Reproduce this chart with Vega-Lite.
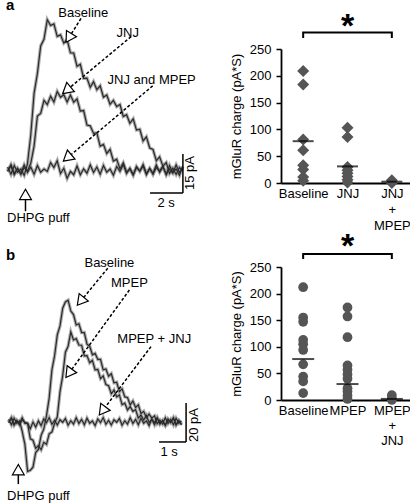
{
  "$schema": "https://vega.github.io/schema/vega-lite/v6.json",
  "padding": 0,
  "background": "white",
  "columns": 2,
  "bounds": "flush",
  "center": true,
  "align": "each",
  "spacing": {"row": 35, "column": 90},
  "config": {"font": "Liberation Sans", "view": {"stroke": null}},
  "datasets": {
    "traceA": [
      {"t":0.1,"Baseline":1.2,"JNJ":-0.5,"JNJ and MPEP":-0.3},
      {"t":0.3,"Baseline":-1.6,"JNJ":2.1,"JNJ and MPEP":1.6},
      {"t":0.5,"Baseline":1.8,"JNJ":-1.3,"JNJ and MPEP":-1.8},
      {"t":0.7,"Baseline":-0.8,"JNJ":0.7,"JNJ and MPEP":0.5},
      {"t":0.9,"Baseline":0.4,"JNJ":-1.7,"JNJ and MPEP":-1.2},
      {"t":1.1,"Baseline":-2.0,"JNJ":1.0,"JNJ and MPEP":2.0},
      {"t":1.3,"Baseline":2.4,"JNJ":-0.3,"JNJ and MPEP":-0.9},
      {"t":1.5,"Baseline":13.5,"JNJ":2.6,"JNJ and MPEP":1.2},
      {"t":1.7,"Baseline":29.5,"JNJ":9.2,"JNJ and MPEP":-1.6},
      {"t":1.9,"Baseline":37.1,"JNJ":20.8,"JNJ and MPEP":1.8},
      {"t":2.1,"Baseline":47.7,"JNJ":21.8,"JNJ and MPEP":-0.8},
      {"t":2.3,"Baseline":50.3,"JNJ":26.8,"JNJ and MPEP":0.4},
      {"t":2.5,"Baseline":57.8,"JNJ":25.2,"JNJ and MPEP":-0.5},
      {"t":2.7,"Baseline":55.6,"JNJ":28.4,"JNJ and MPEP":2.9},
      {"t":2.9,"Baseline":56.2,"JNJ":26.2,"JNJ and MPEP":1.0},
      {"t":3.1,"Baseline":51.4,"JNJ":30.2,"JNJ and MPEP":3.6},
      {"t":3.3,"Baseline":52.0,"JNJ":28.0,"JNJ and MPEP":-1.3},
      {"t":3.5,"Baseline":48.8,"JNJ":29.0,"JNJ and MPEP":0.7},
      {"t":3.7,"Baseline":50.2,"JNJ":26.2,"JNJ and MPEP":-3.2},
      {"t":3.9,"Baseline":45.1,"JNJ":28.9,"JNJ and MPEP":-0.5},
      {"t":4.1,"Baseline":45.0,"JNJ":26.1,"JNJ and MPEP":-1.8},
      {"t":4.3,"Baseline":39.9,"JNJ":27.4,"JNJ and MPEP":1.6},
      {"t":4.5,"Baseline":40.7,"JNJ":22.7,"JNJ and MPEP":-1.8},
      {"t":4.7,"Baseline":35.3,"JNJ":22.9,"JNJ and MPEP":0.5},
      {"t":4.9,"Baseline":35.4,"JNJ":17.3,"JNJ and MPEP":-1.2},
      {"t":5.1,"Baseline":31.8,"JNJ":17.0,"JNJ and MPEP":2.0},
      {"t":5.3,"Baseline":34.0,"JNJ":14.1,"JNJ and MPEP":-0.9},
      {"t":5.5,"Baseline":30.9,"JNJ":14.3,"JNJ and MPEP":1.2},
      {"t":5.7,"Baseline":32.4,"JNJ":9.2,"JNJ and MPEP":-1.6},
      {"t":5.9,"Baseline":28.0,"JNJ":9.9,"JNJ and MPEP":1.8},
      {"t":6.1,"Baseline":28.9,"JNJ":6.4,"JNJ and MPEP":-0.8},
      {"t":6.3,"Baseline":25.3,"JNJ":8.0,"JNJ and MPEP":0.4},
      {"t":6.5,"Baseline":26.8,"JNJ":3.5,"JNJ and MPEP":-2.0},
      {"t":6.7,"Baseline":24.4,"JNJ":4.2,"JNJ and MPEP":1.4},
      {"t":6.9,"Baseline":25.2,"JNJ":0.5,"JNJ and MPEP":-0.5},
      {"t":7.1,"Baseline":20.6,"JNJ":2.8,"JNJ and MPEP":2.1},
      {"t":7.3,"Baseline":21.3,"JNJ":-0.8,"JNJ and MPEP":-1.3},
      {"t":7.5,"Baseline":18.0,"JNJ":0.4,"JNJ and MPEP":0.7},
      {"t":7.7,"Baseline":19.7,"JNJ":-2.0,"JNJ and MPEP":-1.7},
      {"t":7.9,"Baseline":15.4,"JNJ":1.4,"JNJ and MPEP":1.0},
      {"t":8.1,"Baseline":15.7,"JNJ":-0.5,"JNJ and MPEP":-0.3},
      {"t":8.3,"Baseline":11.2,"JNJ":2.1,"JNJ and MPEP":1.6},
      {"t":8.5,"Baseline":12.8,"JNJ":-1.3,"JNJ and MPEP":-1.8},
      {"t":8.7,"Baseline":8.5,"JNJ":0.7,"JNJ and MPEP":0.5},
      {"t":8.9,"Baseline":7.9,"JNJ":-1.7,"JNJ and MPEP":-1.2},
      {"t":9.1,"Baseline":3.6,"JNJ":1.0,"JNJ and MPEP":2.0},
      {"t":9.3,"Baseline":5.1,"JNJ":-0.3,"JNJ and MPEP":-0.9},
      {"t":9.5,"Baseline":1.5,"JNJ":1.6,"JNJ and MPEP":1.2},
      {"t":9.7,"Baseline":2.9,"JNJ":-1.8,"JNJ and MPEP":-1.6},
      {"t":9.9,"Baseline":-1.3,"JNJ":0.5,"JNJ and MPEP":1.8},
      {"t":10.1,"Baseline":0.7,"JNJ":-1.2,"JNJ and MPEP":-0.8},
      {"t":10.3,"Baseline":-1.7,"JNJ":2.0,"JNJ and MPEP":0.4},
      {"t":10.5,"Baseline":1.0,"JNJ":-0.9,"JNJ and MPEP":-2.0},
      {"t":10.7,"Baseline":-0.3,"JNJ":1.2,"JNJ and MPEP":1.4}
    ],
    "traceB": [
      {"t":0.1,"Baseline":1.2,"MPEP":-0.5,"MPEP + JNJ":-0.3},
      {"t":0.2,"Baseline":-1.6,"MPEP":2.1,"MPEP + JNJ":1.6},
      {"t":0.3,"Baseline":1.8,"MPEP":-1.3,"MPEP + JNJ":-1.8},
      {"t":0.4,"Baseline":-0.8,"MPEP":0.7,"MPEP + JNJ":0.5},
      {"t":0.5,"Baseline":0.4,"MPEP":-1.7,"MPEP + JNJ":-1.2},
      {"t":0.6,"Baseline":-5.0,"MPEP":1.0,"MPEP + JNJ":2.0},
      {"t":0.7,"Baseline":-11.6,"MPEP":-0.3,"MPEP + JNJ":-0.9},
      {"t":0.8,"Baseline":-25.5,"MPEP":-0.9,"MPEP + JNJ":-0.8},
      {"t":0.9,"Baseline":-24.9,"MPEP":-8.8,"MPEP + JNJ":-3.6},
      {"t":1.0,"Baseline":-23.3,"MPEP":-9.5,"MPEP + JNJ":-0.2},
      {"t":1.1,"Baseline":-15.8,"MPEP":-13.7,"MPEP + JNJ":-2.8},
      {"t":1.2,"Baseline":-14.2,"MPEP":-12.3,"MPEP + JNJ":0.4},
      {"t":1.3,"Baseline":-7.0,"MPEP":-14.4,"MPEP + JNJ":-2.0},
      {"t":1.4,"Baseline":-3.8,"MPEP":-10.6,"MPEP + JNJ":1.4},
      {"t":1.5,"Baseline":3.1,"MPEP":-11.6,"MPEP + JNJ":-0.5},
      {"t":1.6,"Baseline":12.2,"MPEP":-6.2,"MPEP + JNJ":2.1},
      {"t":1.7,"Baseline":26.5,"MPEP":-5.3,"MPEP + JNJ":-1.3},
      {"t":1.8,"Baseline":33.8,"MPEP":-0.8,"MPEP + JNJ":0.7},
      {"t":1.9,"Baseline":44.5,"MPEP":2.5,"MPEP + JNJ":-1.7},
      {"t":2.0,"Baseline":49.1,"MPEP":15.4,"MPEP + JNJ":1.0},
      {"t":2.1,"Baseline":58.2,"MPEP":23.5,"MPEP + JNJ":-0.3},
      {"t":2.2,"Baseline":61.4,"MPEP":35.6,"MPEP + JNJ":1.6},
      {"t":2.3,"Baseline":62.3,"MPEP":38.7,"MPEP + JNJ":-1.8},
      {"t":2.4,"Baseline":56.7,"MPEP":46.0,"MPEP + JNJ":0.5},
      {"t":2.5,"Baseline":54.9,"MPEP":41.9,"MPEP + JNJ":-1.2},
      {"t":2.6,"Baseline":49.6,"MPEP":42.6,"MPEP + JNJ":2.0},
      {"t":2.7,"Baseline":50.2,"MPEP":39.3,"MPEP + JNJ":-0.9},
      {"t":2.8,"Baseline":45.7,"MPEP":39.2,"MPEP + JNJ":1.2},
      {"t":2.9,"Baseline":45.7,"MPEP":33.7,"MPEP + JNJ":-1.6},
      {"t":3.0,"Baseline":39.7,"MPEP":33.9,"MPEP + JNJ":1.8},
      {"t":3.1,"Baseline":38.7,"MPEP":30.2,"MPEP + JNJ":-0.8},
      {"t":3.2,"Baseline":34.3,"MPEP":31.5,"MPEP + JNJ":0.4},
      {"t":3.3,"Baseline":35.0,"MPEP":26.6,"MPEP + JNJ":-2.0},
      {"t":3.4,"Baseline":31.9,"MPEP":26.8,"MPEP + JNJ":1.4},
      {"t":3.5,"Baseline":32.0,"MPEP":22.1,"MPEP + JNJ":-0.5},
      {"t":3.6,"Baseline":26.6,"MPEP":23.5,"MPEP + JNJ":2.1},
      {"t":3.7,"Baseline":27.0,"MPEP":19.0,"MPEP + JNJ":-1.3},
      {"t":3.8,"Baseline":23.3,"MPEP":18.4,"MPEP + JNJ":0.7},
      {"t":3.9,"Baseline":24.6,"MPEP":14.3,"MPEP + JNJ":-1.7},
      {"t":4.0,"Baseline":19.9,"MPEP":16.2,"MPEP + JNJ":1.0},
      {"t":4.1,"Baseline":20.2,"MPEP":12.7,"MPEP + JNJ":-0.3},
      {"t":4.2,"Baseline":15.4,"MPEP":13.7,"MPEP + JNJ":1.6},
      {"t":4.3,"Baseline":16.8,"MPEP":8.7,"MPEP + JNJ":-1.8},
      {"t":4.4,"Baseline":12.7,"MPEP":9.5,"MPEP + JNJ":0.5},
      {"t":4.5,"Baseline":12.4,"MPEP":6.0,"MPEP + JNJ":-1.2},
      {"t":4.6,"Baseline":8.6,"MPEP":7.7,"MPEP + JNJ":2.0},
      {"t":4.7,"Baseline":10.6,"MPEP":5.3,"MPEP + JNJ":-0.9},
      {"t":4.8,"Baseline":7.3,"MPEP":6.2,"MPEP + JNJ":1.2},
      {"t":4.9,"Baseline":8.6,"MPEP":1.9,"MPEP + JNJ":-1.6},
      {"t":5.0,"Baseline":4.2,"MPEP":3.4,"MPEP + JNJ":1.8},
      {"t":5.1,"Baseline":5.3,"MPEP":0.8,"MPEP + JNJ":-0.8},
      {"t":5.2,"Baseline":2.0,"MPEP":3.2,"MPEP + JNJ":0.4},
      {"t":5.3,"Baseline":3.9,"MPEP":-0.5,"MPEP + JNJ":-2.0},
      {"t":5.4,"Baseline":1.8,"MPEP":1.2,"MPEP + JNJ":1.4},
      {"t":5.5,"Baseline":3.0,"MPEP":-1.6,"MPEP + JNJ":-0.5},
      {"t":5.6,"Baseline":-1.0,"MPEP":1.8,"MPEP + JNJ":2.1},
      {"t":5.7,"Baseline":0.8,"MPEP":-0.8,"MPEP + JNJ":-1.3},
      {"t":5.8,"Baseline":-1.2,"MPEP":0.4,"MPEP + JNJ":0.7},
      {"t":5.9,"Baseline":2.0,"MPEP":-2.0,"MPEP + JNJ":-1.7},
      {"t":6.0,"Baseline":-0.9,"MPEP":1.4,"MPEP + JNJ":1.0},
      {"t":6.1,"Baseline":1.2,"MPEP":-0.5,"MPEP + JNJ":-0.3},
      {"t":6.2,"Baseline":-1.6,"MPEP":2.1,"MPEP + JNJ":1.6},
      {"t":6.3,"Baseline":1.8,"MPEP":-1.3,"MPEP + JNJ":-1.8},
      {"t":6.4,"Baseline":-0.8,"MPEP":0.7,"MPEP + JNJ":0.5},
      {"t":6.5,"Baseline":0.4,"MPEP":-1.7,"MPEP + JNJ":-1.2}
    ]
  },
  "concat": [
    {
      "width": 185,
      "height": 232,
      "encoding": {
        "x": {"field": "t", "type": "quantitative", "scale": {"domain": [0, 11.2], "nice": false, "zero": false}, "axis": null},
        "y": {"field": "p", "type": "quantitative", "scale": {"domain": [-23.8, 65.4], "nice": false, "zero": false}, "axis": null}
      },
      "layer": [
        {
          "data": {"name": "traceA"},
          "transform": [{"fold": ["Baseline", "JNJ", "JNJ and MPEP"], "as": ["series", "p"]}],
          "mark": {"type": "line", "color": "#9a9a9a", "strokeWidth": 3.4, "opacity": 0.8},
          "encoding": {"detail": {"field": "series", "type": "nominal"}}
        },
        {
          "data": {"name": "traceA"},
          "transform": [{"fold": ["Baseline", "JNJ", "JNJ and MPEP"], "as": ["series", "p"]}],
          "mark": {"type": "line", "color": "#2a2a2a", "strokeWidth": 1.2},
          "encoding": {"detail": {"field": "series", "type": "nominal"}}
        },
        {
          "data": {"values": [
            {"t":4.54,"p":58.3,"t2":3.80,"p2":50.8},
            {"t":7.57,"p":51.3,"t2":3.67,"p2":30.7},
            {"t":8.88,"p":32.4,"t2":3.71,"p2":4.7}
          ]},
          "mark": {"type": "rule", "strokeDash": [3, 2], "strokeWidth": 1.5, "color": "black"},
          "encoding": {"x2": {"field": "t2"}, "y2": {"field": "p2"}}
        },
        {
          "data": {"values": [
            {"t":10.71,"p":6.15,"t2":10.71,"p2":-8.85},
            {"t":8.72,"p":-8.85,"t2":10.71,"p2":-8.85},
            {"t":1.18,"p":-10.4,"t2":1.18,"p2":-15.8}
          ]},
          "mark": {"type": "rule", "strokeWidth": 1.5, "color": "black"},
          "encoding": {"x2": {"field": "t2"}, "y2": {"field": "p2"}}
        },
        {
          "data": {"values": [
            {"t":3.80,"p":50.8,"dir":212},
            {"t":3.67,"p":30.7,"dir":230},
            {"t":3.71,"p":4.7,"dir":230},
            {"t":1.18,"p":-9.35,"dir":0}
          ]},
          "mark": {"type": "point", "shape": "triangle-up", "size": 140, "filled": true, "fill": "white", "stroke": "black", "strokeWidth": 1.2, "opacity": 1},
          "encoding": {"angle": {"field": "dir", "type": "quantitative", "scale": null}}
        },
        {
          "data": {"values": [
            {"txt":"Baseline","t":4.68,"p":60.5},
            {"txt":"JNJ","t":7.37,"p":52.6},
            {"txt":"JNJ and MPEP","t":8.82,"p":34.6},
            {"txt":"2 s","t":9.69,"p":-12.5}
          ]},
          "mark": {"type": "text", "fontSize": 13, "align": "center", "baseline": "middle", "color": "black"},
          "encoding": {"text": {"field": "txt"}}
        },
        {
          "data": {"values": [{"txt":"DHPG puff","t":0.06,"p":-20}]},
          "mark": {"type": "text", "fontSize": 13, "align": "left", "baseline": "alphabetic", "color": "black"},
          "encoding": {"text": {"field": "txt"}}
        },
        {
          "data": {"values": [{"txt":"a","t":0.0,"p":61.5}]},
          "mark": {"type": "text", "fontSize": 15, "fontWeight": "bold", "align": "left", "baseline": "alphabetic", "color": "black", "clip": true},
          "encoding": {"text": {"field": "txt"}}
        },
        {
          "data": {"values": [{"txt":"15 pA","t":11.14,"p":-1.15}]},
          "mark": {"type": "text", "fontSize": 13, "angle": 270, "align": "center", "baseline": "middle", "color": "black"},
          "encoding": {"text": {"field": "txt"}}
        }
      ]
    },
    {
      "width": 133,
      "height": 134,
      "encoding": {
        "x": {"field": "g", "type": "nominal", "sort": ["Baseline", "JNJ", "JNJ + MPEP"], "scale": {"type": "point", "padding": 0.5},
          "axis": {"title": null, "labelAngle": 0, "ticks": false, "domainColor": "black", "domainWidth": 1.8, "labelFontSize": 13, "labelColor": "black", "labelPadding": 4, "labelLineHeight": 16,
            "labelExpr": "datum.value == 'JNJ + MPEP' ? ['JNJ', '+', 'MPEP'] : datum.label"}},
        "y": {"field": "v", "type": "quantitative", "scale": {"domain": [0, 250], "nice": false},
          "axis": {"title": "mGluR charge (pA*S)", "values": [0, 50, 100, 150, 200, 250], "grid": false, "domainColor": "black", "domainWidth": 1.8, "tickColor": "black", "tickWidth": 1.5, "tickSize": 5, "labelFontSize": 13, "labelColor": "black", "labelPadding": 5, "titleFontSize": 13, "titleFontWeight": "normal", "titleColor": "black", "titlePadding": 6}}
      },
      "layer": [
        {
          "data": {"values": [
            {"g":"Baseline","v":209},{"g":"Baseline","v":184},{"g":"Baseline","v":81},{"g":"Baseline","v":61},
            {"g":"Baseline","v":33},{"g":"Baseline","v":25},{"g":"Baseline","v":11},{"g":"Baseline","v":4},
            {"g":"JNJ","v":103},{"g":"JNJ","v":86},{"g":"JNJ","v":30},{"g":"JNJ","v":24},
            {"g":"JNJ","v":18},{"g":"JNJ","v":12},{"g":"JNJ","v":6},{"g":"JNJ","v":1},
            {"g":"JNJ + MPEP","v":5},{"g":"JNJ + MPEP","v":0}
          ]},
          "mark": {"type": "point", "shape": "diamond", "filled": true, "size": 144, "color": "#555555", "opacity": 1}
        },
        {
          "data": {"values": [{"g":"Baseline","v":78},{"g":"JNJ","v":31},{"g":"JNJ + MPEP","v":2.5}]},
          "mark": {"type": "tick", "orient": "horizontal", "size": 21, "thickness": 2, "color": "black"}
        },
        {
          "data": {"values": [
            {"g":"Baseline","v":270.5,"o":1},{"g":"Baseline","v":280.8,"o":2},
            {"g":"JNJ + MPEP","v":280.8,"o":3},{"g":"JNJ + MPEP","v":270.5,"o":4}
          ]},
          "mark": {"type": "line", "color": "black", "strokeWidth": 2},
          "encoding": {"order": {"field": "o", "type": "quantitative"}}
        },
        {
          "data": {"values": [{"g":"JNJ","v":273.3,"txt":"*"}]},
          "mark": {"type": "text", "fontSize": 34, "fontWeight": "bold", "align": "center", "baseline": "alphabetic", "color": "black"},
          "encoding": {"text": {"field": "txt"}}
        }
      ]
    },
    {
      "width": 185,
      "height": 237,
      "encoding": {
        "x": {"field": "t", "type": "quantitative", "scale": {"domain": [0, 6.852], "nice": false, "zero": false}, "axis": null},
        "y": {"field": "p", "type": "quantitative", "scale": {"domain": [-42.2, 79.3], "nice": false, "zero": false}, "axis": null}
      },
      "layer": [
        {
          "data": {"name": "traceB"},
          "transform": [{"fold": ["Baseline", "MPEP", "MPEP + JNJ"], "as": ["series", "p"]}],
          "mark": {"type": "line", "color": "#9a9a9a", "strokeWidth": 3.4, "opacity": 0.8},
          "encoding": {"detail": {"field": "series", "type": "nominal"}}
        },
        {
          "data": {"name": "traceB"},
          "transform": [{"fold": ["Baseline", "MPEP", "MPEP + JNJ"], "as": ["series", "p"]}],
          "mark": {"type": "line", "color": "#2a2a2a", "strokeWidth": 1.2},
          "encoding": {"detail": {"field": "series", "type": "nominal"}}
        },
        {
          "data": {"values": [
            {"t":3.77,"p":78.7,"t2":2.76,"p2":61.7},
            {"t":4.57,"p":67.5,"t2":2.33,"p2":24.8},
            {"t":5.37,"p":38.5,"t2":3.57,"p2":5.5}
          ]},
          "mark": {"type": "rule", "strokeDash": [3, 2], "strokeWidth": 1.5, "color": "black"},
          "encoding": {"x2": {"field": "t2"}, "y2": {"field": "p2"}}
        },
        {
          "data": {"values": [
            {"t":6.67,"p":9.6,"t2":6.67,"p2":-10.4},
            {"t":5.67,"p":-10.4,"t2":6.67,"p2":-10.4},
            {"t":0.456,"p":-26.1,"t2":0.456,"p2":-32.0}
          ]},
          "mark": {"type": "rule", "strokeWidth": 1.5, "color": "black"},
          "encoding": {"x2": {"field": "t2"}, "y2": {"field": "p2"}}
        },
        {
          "data": {"values": [
            {"t":2.76,"p":61.7,"dir":219},
            {"t":2.33,"p":24.8,"dir":216},
            {"t":3.57,"p":5.5,"dir":217},
            {"t":0.456,"p":-24.6,"dir":0}
          ]},
          "mark": {"type": "point", "shape": "triangle-up", "size": 140, "filled": true, "fill": "white", "stroke": "black", "strokeWidth": 1.2, "opacity": 1},
          "encoding": {"angle": {"field": "dir", "type": "quantitative", "scale": null}}
        },
        {
          "data": {"values": [
            {"txt":"Baseline","t":3.83,"p":81.2},
            {"txt":"MPEP","t":4.57,"p":71.0},
            {"txt":"MPEP + JNJ","t":5.49,"p":42.3},
            {"txt":"1 s","t":6.04,"p":-15.5}
          ]},
          "mark": {"type": "text", "fontSize": 13, "align": "center", "baseline": "middle", "color": "black"},
          "encoding": {"text": {"field": "txt"}}
        },
        {
          "data": {"values": [{"txt":"DHPG puff","t":0.04,"p":-39.9}]},
          "mark": {"type": "text", "fontSize": 13, "align": "left", "baseline": "alphabetic", "color": "black"},
          "encoding": {"text": {"field": "txt"}}
        },
        {
          "data": {"values": [{"txt":"b","t":0.0,"p":82.9}]},
          "mark": {"type": "text", "fontSize": 15, "fontWeight": "bold", "align": "left", "baseline": "alphabetic", "color": "black"},
          "encoding": {"text": {"field": "txt"}}
        },
        {
          "data": {"values": [{"txt":"20 pA","t":6.96,"p":-1.7}]},
          "mark": {"type": "text", "fontSize": 13, "angle": 270, "align": "center", "baseline": "middle", "color": "black"},
          "encoding": {"text": {"field": "txt"}}
        }
      ]
    },
    {
      "width": 133,
      "height": 133,
      "encoding": {
        "x": {"field": "g", "type": "nominal", "sort": ["Baseline", "MPEP", "MPEP + JNJ"], "scale": {"type": "point", "padding": 0.5},
          "axis": {"title": null, "labelAngle": 0, "ticks": false, "domainColor": "black", "domainWidth": 1.8, "labelFontSize": 13, "labelColor": "black", "labelPadding": 4, "labelLineHeight": 15,
            "labelExpr": "datum.value == 'MPEP + JNJ' ? ['MPEP', '+', 'JNJ'] : datum.label"}},
        "y": {"field": "v", "type": "quantitative", "scale": {"domain": [0, 250], "nice": false},
          "axis": {"title": "mGluR charge (pA*S)", "values": [0, 50, 100, 150, 200, 250], "grid": false, "domainColor": "black", "domainWidth": 1.8, "tickColor": "black", "tickWidth": 1.5, "tickSize": 5, "labelFontSize": 13, "labelColor": "black", "labelPadding": 5, "titleFontSize": 13, "titleFontWeight": "normal", "titleColor": "black", "titlePadding": 6}}
      },
      "layer": [
        {
          "data": {"values": [
            {"g":"Baseline","v":212},{"g":"Baseline","v":155},{"g":"Baseline","v":147},{"g":"Baseline","v":113},
            {"g":"Baseline","v":105},{"g":"Baseline","v":94},{"g":"Baseline","v":67},{"g":"Baseline","v":44},
            {"g":"Baseline","v":35},{"g":"Baseline","v":13},
            {"g":"MPEP","v":174},{"g":"MPEP","v":157},{"g":"MPEP","v":118},{"g":"MPEP","v":65},
            {"g":"MPEP","v":57},{"g":"MPEP","v":48},{"g":"MPEP","v":40},{"g":"MPEP","v":22},
            {"g":"MPEP","v":16},{"g":"MPEP","v":8},{"g":"MPEP","v":2},
            {"g":"MPEP + JNJ","v":9},{"g":"MPEP + JNJ","v":3},{"g":"MPEP + JNJ","v":0}
          ]},
          "mark": {"type": "point", "shape": "circle", "filled": true, "size": 95, "color": "#555555", "opacity": 1}
        },
        {
          "data": {"values": [{"g":"Baseline","v":77},{"g":"MPEP","v":30},{"g":"MPEP + JNJ","v":2}]},
          "mark": {"type": "tick", "orient": "horizontal", "size": 22, "thickness": 2, "color": "black"}
        },
        {
          "data": {"values": [
            {"g":"Baseline","v":265,"o":1},{"g":"Baseline","v":274.4,"o":2},
            {"g":"MPEP + JNJ","v":274.4,"o":3},{"g":"MPEP + JNJ","v":265,"o":4}
          ]},
          "mark": {"type": "line", "color": "black", "strokeWidth": 2},
          "encoding": {"order": {"field": "o", "type": "quantitative"}}
        },
        {
          "data": {"values": [{"g":"MPEP","v":268.2,"txt":"*"}]},
          "mark": {"type": "text", "fontSize": 34, "fontWeight": "bold", "align": "center", "baseline": "alphabetic", "color": "black"},
          "encoding": {"text": {"field": "txt"}}
        }
      ]
    }
  ]
}
